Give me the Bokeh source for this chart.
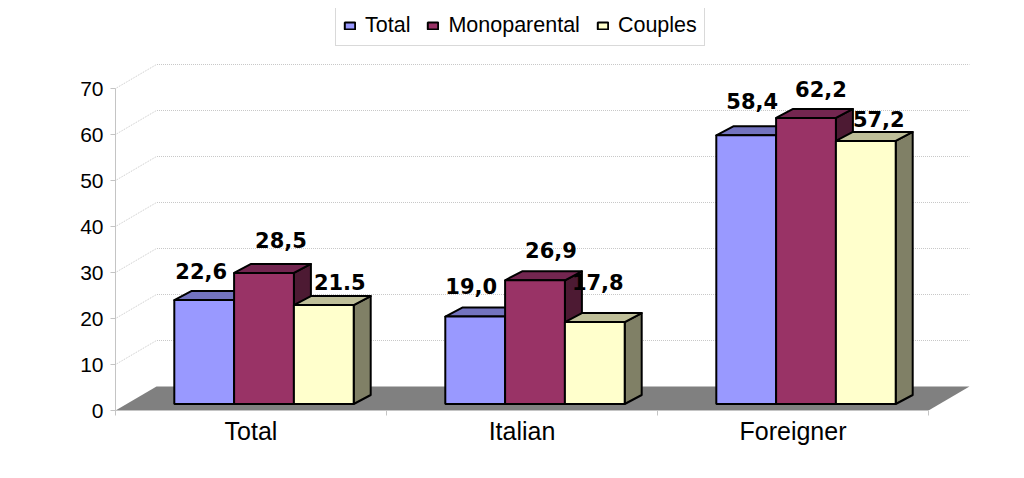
from bokeh.plotting import figure
from bokeh.models import ColumnDataSource, FixedTicker, Legend, LegendItem, Range1d
from bokeh.core.properties import value
from bokeh.embed import file_html
from bokeh.resources import INLINE

# ---- data ----
categories = ["Total", "Italian", "Foreigner"]
series_names = ["Total", "Monoparental", "Couples"]
total_values = [22.6, 19.0, 58.4]
mono_values = [28.5, 26.9, 62.2]
couples_values = [21.5, 17.8, 57.2]
total_labels = ["22,6", "19,0", "58,4"]
mono_labels = ["28,5", "26,9", "62,2"]
couples_labels = ["21.5", "17,8", "57,2"]
y_ticks = [0, 10, 20, 30, 40, 50, 60, 70]

# ---- colours ----
front_colors = ["#9999FF", "#993366", "#FFFFCC"]
top_colors = ["#7373BF", "#732650", "#BFBF99"]
side_colors = ["#4D4D80", "#4D1A33", "#808066"]

# ---- layout: one category is CAT_PX pixels wide, one value unit is UNIT_PX pixels high ----
CAT_PX = 271.0
UNIT_PX = 4.6
FRAME_W, FRAME_H = 865, 402
def px_x(n): return n / CAT_PX
def px_y(n): return n / UNIT_PX

WALL_DX, WALL_DY = px_x(41), px_y(24)      # depth of the chart box
BAR_DX, BAR_DY = px_x(17), px_y(9)         # depth of one bar
BAR_W = px_x(59.8)
SHIFT_X, SHIFT_Y = px_x(13), px_y(6.5)     # bars stand inside the floor
FONT = "Liberation Sans"

p = figure(width=1016, height=470, output_backend="svg", toolbar_location=None,
           x_range=Range1d(0, FRAME_W / CAT_PX), y_range=Range1d(0, FRAME_H / UNIT_PX),
           min_border_left=115, min_border_right=36, min_border_top=8, min_border_bottom=60,
           outline_line_color=None, background_fill_color="white", border_fill_color="white")
p.grid.visible = False

# axes
xa = p.xaxis[0]
xa.ticker = FixedTicker(ticks=[0.5, 1.5, 2.5], minor_ticks=[0, 1, 2, 3])
xa.major_label_overrides = {0.5: categories[0], 1.5: categories[1], 2.5: categories[2]}
xa.bounds = (0, 3)
xa.axis_line_color = "#c4c4c4"
xa.major_tick_line_color = None
xa.minor_tick_line_color = "#c4c4c4"
xa.minor_tick_out = 5
xa.minor_tick_in = 0
xa.major_label_text_font = FONT
xa.major_label_text_font_size = "25px"
xa.major_label_text_color = "black"
xa.major_label_standoff = 0

ya = p.yaxis[0]
ya.ticker = FixedTicker(ticks=y_ticks)
ya.bounds = (0, 70)
ya.axis_line_color = "#c4c4c4"
ya.major_tick_line_color = "#c4c4c4"
ya.major_tick_out = 5
ya.major_tick_in = 0
ya.minor_tick_line_color = None
ya.major_label_text_font = FONT
ya.major_label_text_font_size = "21px"
ya.major_label_text_color = "black"
ya.major_label_standoff = 7

# floor
p.patch([0, 3, 3 + WALL_DX, WALL_DX], [0, 0, WALL_DY, WALL_DY], fill_color="#808080", line_color=None)

# wall grid lines (side wall + back wall)
grid_values = y_ticks[1:]
p.multi_line([[0, WALL_DX, 3 + WALL_DX] for _ in grid_values],
             [[v, v + WALL_DY, v + WALL_DY] for v in grid_values],
             line_color="#c8c8c8", line_width=1, line_dash="1 1")

# bars, painted left to right
all_values = [total_values, mono_values, couples_values]
renderers = []
for g in range(len(categories)):
    for s in range(len(series_names)):
        v = all_values[s][g]
        x0 = g + 0.5 + SHIFT_X + (s - 1.5) * BAR_W
        x1 = x0 + BAR_W
        y0 = SHIFT_Y
        y1 = SHIFT_Y + v
        p.patch([x1, x1 + BAR_DX, x1 + BAR_DX, x1], [y0, y0 + BAR_DY, y1 + BAR_DY, y1],
                fill_color=side_colors[s], line_color="black", line_width=2, line_join="round")
        p.patch([x0, x0 + BAR_DX, x1 + BAR_DX, x1], [y1, y1 + BAR_DY, y1 + BAR_DY, y1],
                fill_color=top_colors[s], line_color="black", line_width=2, line_join="round")
        r = p.quad(left=[x0], right=[x1], bottom=[y0], top=[y1],
                   fill_color=front_colors[s], line_color="black", line_width=2)
        if g == 0:
            renderers.append(r)

# data labels; pixel nudges copy the hand placement of the original
label_nudge = {
    0: ([-3, 17, 16], [29, 33, 23]),
    1: ([-4, 16, 3], [31, 30, 40]),
    2: ([6, 15, 13], [34, 29, 22]),
}
xs, ys, txt, dx, dy = [], [], [], [], []
all_labels = [total_labels, mono_labels, couples_labels]
for g in range(len(categories)):
    for s in range(len(series_names)):
        xs.append(g + 0.5 + SHIFT_X + (s - 1) * BAR_W)
        ys.append(SHIFT_Y + all_values[s][g])
        txt.append(all_labels[s][g])
        dx.append(label_nudge[g][0][s])
        dy.append(-label_nudge[g][1][s])
src = ColumnDataSource(dict(x=xs, y=ys, t=txt, dx=dx, dy=dy))
p.text("x", "y", text="t", x_offset="dx", y_offset="dy", source=src,
       text_font=value("DejaVu Sans"), text_font_style="bold", text_font_size="21px",
       text_align="center", text_baseline="middle", text_color="black")

legend = Legend(items=[LegendItem(label=n, renderers=[r]) for n, r in zip(series_names, renderers)],
                orientation="horizontal", location=(220, 364),
                glyph_width=13, glyph_height=9, label_standoff=9, spacing=16,
                padding=7, margin=0, border_line_color="#b4b4b4", border_line_width=1,
                label_text_font=FONT, label_text_font_size="21.5px", label_text_color="black",
                background_fill_color="white", background_fill_alpha=1)
p.add_layout(legend)

open("out.html", "w").write(file_html(p, INLINE))
